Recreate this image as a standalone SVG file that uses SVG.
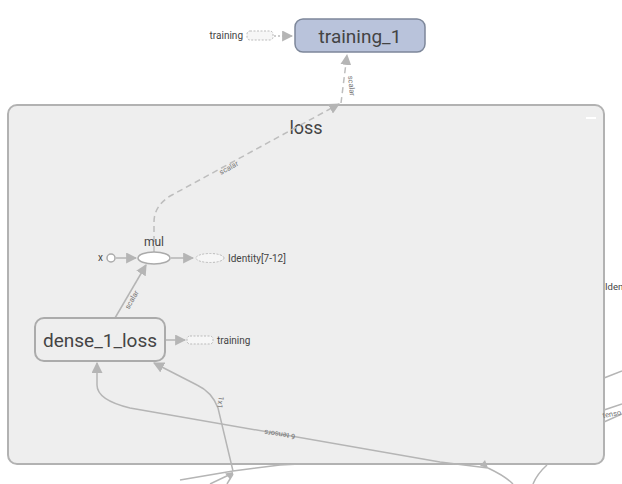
<svg xmlns="http://www.w3.org/2000/svg" width="622" height="484" viewBox="0 0 622 484">
<defs>
<style>
.edge{fill:none;stroke:#b5b5b5;stroke-width:1.5}
.dash{fill:none;stroke:#bdbdbd;stroke-width:1.5;stroke-dasharray:6 4}
.lbl{font-family:Roboto,"Liberation Sans",sans-serif;fill:#444}
.small{font-size:10px}
.elbl{font-family:Roboto,"Liberation Sans",sans-serif;font-size:7.5px;fill:#777}
.aux{fill:#f6f6f6;stroke:#bbb;stroke-width:1;stroke-dasharray:2 1.5}
</style>
<marker id="arrL" viewBox="0 0 10 10" refX="9" refY="5" markerWidth="11" markerHeight="11" markerUnits="userSpaceOnUse" orient="auto">
<path d="M0,0 L10,5 L0,10 z" fill="#b5b5b5"/>
</marker>
</defs>
<rect width="622" height="484" fill="#ffffff"/>

<g id="loss">
<rect x="8" y="105" width="596" height="359" rx="9" fill="#eeeeee" stroke="#b2b2b2" stroke-width="2"/>
<text x="306" y="134" class="lbl" font-size="18" text-anchor="middle">loss</text>
<line x1="586" y1="118" x2="596" y2="118" stroke="#ffffff" stroke-width="2"/>
</g>

<g id="outside-edges">
<path class="edge" d="M604,378 L622,371"/>
<path class="edge" d="M604,410 L622,404"/>
<path class="edge" d="M604,422 L622,414"/>
<path class="edge" d="M180,480 L233,471"/>
<path class="edge" d="M210,484 L233,473"/>
<path class="edge" d="M227,484 L233,474"/>
<path class="edge" d="M233,471 L280,465 L300,464"/>
<path class="edge" d="M488,468 Q505,476 513,484"/>
<path class="edge" d="M547,465 Q537,474 533,484"/>
<text x="605" y="290" class="lbl" font-size="9.5">Iden</text>
<text x="603" y="418" class="elbl" font-size="6.5" transform="rotate(-10 603 418)">tenso</text>
</g>

<g id="connectors">
<path class="dash" d="M154,252 L154,222 Q154,205 172,195 L339,104" marker-end="url(#arrL)"/>
<path class="dash" d="M341,103 L347,55" marker-end="url(#arrL)"/>
<text x="230" y="170" class="elbl" text-anchor="middle" transform="rotate(-29 230 170)">scalar</text>
<text x="349" y="86" class="elbl" text-anchor="middle" transform="rotate(84 349 86)">scalar</text>
<path class="edge" d="M115,318 L146,265" marker-end="url(#arrL)"/>
<text x="134" y="301" class="elbl" text-anchor="middle" transform="rotate(-60 134 301)">scalar</text>
<path class="edge" d="M116,258 L136,258" marker-end="url(#arrL)"/>
<path class="edge" d="M171,258 L193,258" marker-end="url(#arrL)"/>
<path class="edge" d="M166,340 L185,340" marker-end="url(#arrL)"/>
<path class="dash" d="M274,36 L292,36" style="stroke-dasharray:2 2" marker-end="url(#arrL)"/>
<path class="edge" d="M233,471 L218,408 Q212,392 197,385 L154,363" marker-end="url(#arrL)"/>
<text x="218" y="402" class="elbl" text-anchor="middle" transform="rotate(100 218 402)">1x1</text>
<path class="edge" d="M488,468 L440,462 Q300,438 130,408 Q97,400 97,385 L97,363" marker-end="url(#arrL)"/>
<text x="280" y="432" class="elbl" text-anchor="middle" transform="rotate(188 280 432)">6 tensors</text>
<path d="M488,468 l-8,-2 l5,-6 z" fill="#b5b5b5"/>
<path d="M233,472 l-7,-4 l7,-4 z" fill="#b5b5b5" transform="rotate(-100 233 472)"/>
</g>

<g id="training_1">
<rect x="295" y="19" width="130" height="33" rx="8" fill="#b9c3db" stroke="#7d879a" stroke-width="1.5"/>
<text x="360" y="43" class="lbl" font-size="19" text-anchor="middle">training_1</text>
</g>

<g id="training_in">
<rect x="247" y="31" width="26" height="9" rx="3" class="aux"/>
<text x="243" y="39" class="lbl small" text-anchor="end">training</text>
</g>

<g id="mul">
<ellipse cx="154" cy="258" rx="16" ry="6" fill="#ffffff" stroke="#aaaaaa" stroke-width="1.5"/>
<text x="154" y="246" class="lbl" font-size="12" text-anchor="middle">mul</text>
</g>

<g id="x">
<circle cx="111" cy="258" r="4" fill="#ffffff" stroke="#aaaaaa" stroke-width="1.5"/>
<text x="103" y="261" class="lbl small" text-anchor="end">x</text>
</g>

<g id="identity">
<ellipse cx="210" cy="258" rx="14" ry="4.5" class="aux"/>
<text x="228" y="262" class="lbl small">Identity[7-12]</text>
</g>

<g id="dense_1_loss">
<rect x="35" y="318" width="130" height="43" rx="9" fill="#eeeeee" stroke="#ababab" stroke-width="2"/>
<text x="100" y="347" class="lbl" font-size="19" text-anchor="middle">dense_1_loss</text>
</g>

<g id="training_out">
<rect x="187" y="336" width="26" height="8" rx="3" class="aux"/>
<text x="217" y="344" class="lbl small">training</text>
</g>
</svg>
